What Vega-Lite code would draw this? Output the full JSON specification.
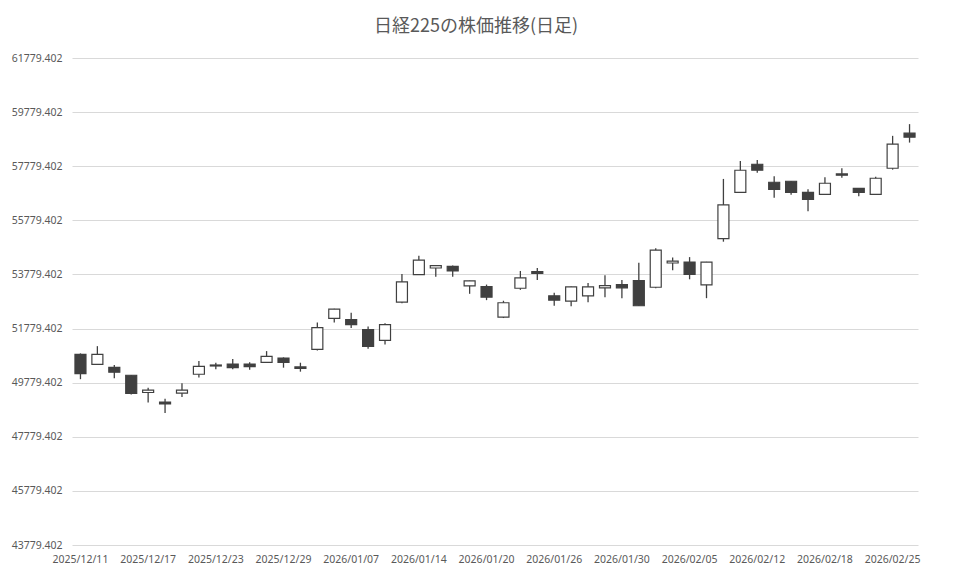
{
  "$schema": "https://vega.github.io/schema/vega-lite/v6.json",
  "width": 846,
  "height": 487,
  "autosize": {"type": "none"},
  "padding": {"left": 72, "top": 58, "right": 35, "bottom": 32},
  "background": "#ffffff",
  "title": {
    "text": "日経225の株価推移(日足)",
    "font": "Noto Sans CJK JP",
    "fontSize": 18,
    "fontWeight": "normal",
    "color": "#595959",
    "anchor": "middle",
    "frame": "group",
    "dx": -19,
    "baseline": "alphabetic",
    "offset": 3
  },
  "config": {
    "view": {"stroke": null},
    "axis": {"labelFont": "Noto Sans", "labelFontSize": 10.5, "labelColor": "#595959"}
  },
  "data": {
    "values": [
      {"date": "2025/12/11", "open": 50825, "high": 50862, "low": 49908, "close": 50113},
      {"date": "2025/12/12", "open": 50458, "high": 51129, "low": 50450, "close": 50825},
      {"date": "2025/12/15", "open": 50348, "high": 50432, "low": 49944, "close": 50164},
      {"date": "2025/12/16", "open": 50054, "high": 50060, "low": 49342, "close": 49379},
      {"date": "2025/12/17", "open": 49416, "high": 49588, "low": 49049, "close": 49504},
      {"date": "2025/12/18", "open": 49064, "high": 49185, "low": 48660, "close": 48990},
      {"date": "2025/12/19", "open": 49394, "high": 49761, "low": 49247, "close": 49504},
      {"date": "2025/12/22", "open": 50091, "high": 50579, "low": 49966, "close": 50385},
      {"date": "2025/12/23", "open": 50396, "high": 50517, "low": 50275, "close": 50432},
      {"date": "2025/12/24", "open": 50469, "high": 50652, "low": 50275, "close": 50333},
      {"date": "2025/12/25", "open": 50469, "high": 50531, "low": 50260, "close": 50370},
      {"date": "2025/12/26", "open": 50531, "high": 50946, "low": 50520, "close": 50752},
      {"date": "2025/12/29", "open": 50689, "high": 50715, "low": 50333, "close": 50531},
      {"date": "2025/12/30", "open": 50360, "high": 50517, "low": 50186, "close": 50310},
      {"date": "2026/01/05", "open": 51008, "high": 51999, "low": 50972, "close": 51816},
      {"date": "2026/01/06", "open": 52157, "high": 52510, "low": 51999, "close": 52499},
      {"date": "2026/01/07", "open": 52110, "high": 52366, "low": 51801, "close": 51926},
      {"date": "2026/01/08", "open": 51743, "high": 51853, "low": 51031, "close": 51119},
      {"date": "2026/01/09", "open": 51339, "high": 51974, "low": 51192, "close": 51926},
      {"date": "2026/01/13", "open": 52755, "high": 53798, "low": 52719, "close": 53504},
      {"date": "2026/01/14", "open": 53772, "high": 54469, "low": 53760, "close": 54312},
      {"date": "2026/01/15", "open": 54018, "high": 54115, "low": 53698, "close": 54102},
      {"date": "2026/01/16", "open": 54077, "high": 54113, "low": 53698, "close": 53908},
      {"date": "2026/01/19", "open": 53357, "high": 53550, "low": 53064, "close": 53541},
      {"date": "2026/01/20", "open": 53332, "high": 53405, "low": 52829, "close": 52939},
      {"date": "2026/01/21", "open": 52205, "high": 52807, "low": 52168, "close": 52733},
      {"date": "2026/01/22", "open": 53269, "high": 53908, "low": 53210, "close": 53651},
      {"date": "2026/01/23", "open": 53882, "high": 54018, "low": 53577, "close": 53820},
      {"date": "2026/01/26", "open": 52990, "high": 53100, "low": 52623, "close": 52829},
      {"date": "2026/01/27", "open": 52792, "high": 53330, "low": 52608, "close": 53320},
      {"date": "2026/01/28", "open": 52990, "high": 53467, "low": 52755, "close": 53320},
      {"date": "2026/01/29", "open": 53284, "high": 53746, "low": 52939, "close": 53368},
      {"date": "2026/01/30", "open": 53405, "high": 53577, "low": 52902, "close": 53284},
      {"date": "2026/02/02", "open": 53552, "high": 54212, "low": 52610, "close": 52623},
      {"date": "2026/02/03", "open": 53306, "high": 54752, "low": 53269, "close": 54678},
      {"date": "2026/02/04", "open": 54202, "high": 54408, "low": 53930, "close": 54275},
      {"date": "2026/02/05", "open": 54238, "high": 54420, "low": 53600, "close": 53783},
      {"date": "2026/02/06", "open": 53394, "high": 54245, "low": 52902, "close": 54238},
      {"date": "2026/02/09", "open": 55100, "high": 57310, "low": 54990, "close": 56350},
      {"date": "2026/02/10", "open": 56816, "high": 57976, "low": 56800, "close": 57631},
      {"date": "2026/02/12", "open": 57853, "high": 58013, "low": 57542, "close": 57631},
      {"date": "2026/02/13", "open": 57187, "high": 57409, "low": 56616, "close": 56927},
      {"date": "2026/02/16", "open": 57224, "high": 57230, "low": 56727, "close": 56816},
      {"date": "2026/02/17", "open": 56816, "high": 56927, "low": 56113, "close": 56557},
      {"date": "2026/02/18", "open": 56742, "high": 57372, "low": 56730, "close": 57150},
      {"date": "2026/02/19", "open": 57494, "high": 57705, "low": 57357, "close": 57446},
      {"date": "2026/02/20", "open": 56964, "high": 56970, "low": 56668, "close": 56816},
      {"date": "2026/02/24", "open": 56742, "high": 57394, "low": 56730, "close": 57335},
      {"date": "2026/02/25", "open": 57705, "high": 58902, "low": 57653, "close": 58594},
      {"date": "2026/02/26", "open": 59002, "high": 59335, "low": 58653, "close": 58853}
    ]
  },
  "encoding": {
    "x": {
      "field": "date",
      "type": "ordinal",
      "sort": null,
      "scale": {"type": "band", "paddingInner": 0, "paddingOuter": 0},
      "axis": {
        "title": null,
        "labelExpr": "indexof(['2025/12/11','2025/12/17','2025/12/23','2025/12/29','2026/01/07','2026/01/14','2026/01/20','2026/01/26','2026/01/30','2026/02/05','2026/02/12','2026/02/18','2026/02/25'], datum.value) >= 0 ? datum.value : ''",
        "labelAngle": 0,
        "labelOverlap": false,
        "labelFlush": false,
        "labelBound": false,
        "ticks": false,
        "domain": false,
        "grid": false,
        "labelPadding": 9
      }
    }
  },
  "layer": [
    {
      "mark": {"type": "rule", "color": "#404040", "strokeWidth": 1.3},
      "encoding": {
        "y": {
          "field": "low",
          "type": "quantitative",
          "scale": {"domain": [43779.402, 61779.402], "nice": false, "zero": false},
          "axis": {
            "title": null,
            "values": [43779.402, 45779.402, 47779.402, 49779.402, 51779.402, 53779.402, 55779.402, 57779.402, 59779.402, 61779.402],
            "format": ".3f",
            "ticks": false,
            "domain": false,
            "grid": true,
            "gridColor": "#d9d9d9",
            "gridWidth": 1,
            "labelPadding": 10
          }
        },
        "y2": {"field": "high"}
      }
    },
    {
      "mark": {"type": "bar", "size": 11, "stroke": "#404040", "strokeWidth": 1.2},
      "encoding": {
        "y": {"field": "open", "type": "quantitative"},
        "y2": {"field": "close"},
        "fill": {
          "condition": {"test": "datum.close > datum.open", "value": "#ffffff"},
          "value": "#404040"
        }
      }
    }
  ]
}
